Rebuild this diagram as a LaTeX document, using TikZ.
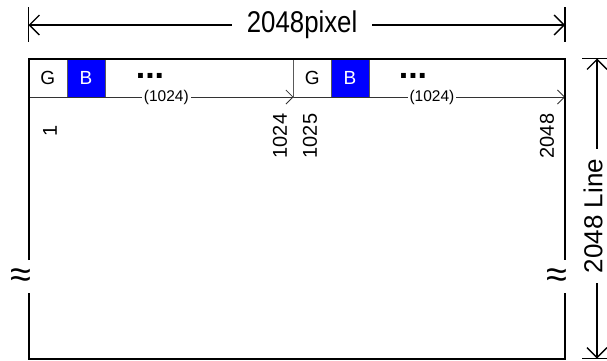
\documentclass[tikz,border=0pt]{standalone}
\usepackage{fontspec}
\setmainfont{Liberation Sans}
\usepackage{tikz}
\usetikzlibrary{arrows.meta}
\usetikzlibrary{positioning}
\definecolor{pixblue}{RGB}{0,0,255}
\newcommand{\narrowtext}[1]{\scalebox{0.86}[1]{#1}}
\tikzset{
    frame/.style={draw=black, line width=2pt},
    cell/.style={draw=black!65, line width=0.8pt, inner sep=0pt,
        minimum width=38.5pt, minimum height=38.5pt, font=\fontsize{19}{19}\selectfont},
    gcell/.style={cell, fill=white},
    bcell/.style={cell, fill=pixblue, text=white},
    divider/.style={draw=black!65, line width=0.8pt},
    count/.style={draw=black!80, line width=0.8pt, -{Straight Barb[length=7pt,width=14pt]}},
    countlabel/.style={fill=white, inner xsep=2pt, inner ysep=0pt, font=\fontsize{15.5}{15.5}\selectfont},
    dots/.style={anchor=base, inner sep=0pt, font=\fontsize{34}{34}\selectfont\bfseries},
    index/.style={rotate=90, inner sep=0pt, font=\fontsize{20}{20}\selectfont},
    wave/.style={inner sep=0pt, font=\fontsize{38}{38}\selectfont},
    dimline/.style={line width=1.3pt,
        {Straight Barb[length=10pt,width=20pt]}-{Straight Barb[length=10pt,width=20pt]}},
    dimtick/.style={line width=1.3pt},
    dimlabel/.style={fill=white, inner ysep=0pt, font=\fontsize{30}{30}\selectfont},
}

\begin{document}
\begin{tikzpicture}[x=1pt, y=-1pt]
\useasboundingbox (0,0) rectangle (607,360);
% corners of the image area
\coordinate (tl) at (28.5,58.5);
\coordinate (tr) at (565,58.5);
\coordinate (bl) at (28.5,358.5);
\coordinate (br) at (565,358.5);
\coordinate (lcut1) at (28.5,260);
\coordinate (lcut2) at (28.5,293);
\coordinate (rcut1) at (565,260);
\coordinate (rcut2) at (565,293);
\coordinate (mid) at (293.5,58.5);
\coordinate (rowl) at (28.5,97);
\coordinate (rowm) at (293.5,97);
\coordinate (rowr) at (565,97);

\node[gcell] (g1) at (47.75,77.75) {G};
\node[bcell, minimum width=38pt] (b1) at (86,77.75) {B};
\node[gcell, minimum width=37.5pt] (g2) at (312.25,77.75) {G};
\node[bcell, minimum width=38pt] (b2) at (350,77.75) {B};
\node[dots] (d1) at (150,78) {...};
\node[dots] (d2) at (413,78) {...};

\draw[divider] (mid) -- (rowm);
\draw[count] (rowl) -- node[countlabel, pos=0.52] (n1) {(1024)} (rowm);
\draw[count] (rowm) -- node[countlabel, pos=0.51] (n2) {(1024)} (rowr);

\draw[frame] (lcut1) -- (tl) -- (tr) -- (rcut1);
\draw[frame] (lcut2) -- (bl) -- (br) -- (rcut2);
\node[wave] (wl) at (21,278) {≈};
\node[wave] (wr) at (557,278) {≈};

\node[index] (i1) at (50,131) {1};
\node[index] (i2) at (280,136) {1024};
\node[index] (i3) at (310,136) {1025};
\node[index] (i4) at (547,136) {2048};

% width
\coordinate (wa1) at (28.5,7);
\coordinate (wa2) at (28.5,42);
\coordinate (wb1) at (565,7);
\coordinate (wb2) at (565,42);
\coordinate (wl1) at (28.5,25);
\coordinate (wl2) at (565,25);
\draw[dimtick] (wa1) -- (wa2);
\draw[dimtick] (wb1) -- (wb2);
\draw[dimline] (wl1) -- node[dimlabel, inner xsep=15pt, pos=0.51] (wtxt) {\narrowtext{2048pixel}} (wl2);

% height
\coordinate (ha1) at (582,58.5);
\coordinate (ha2) at (607,58.5);
\coordinate (hb1) at (582,358.5);
\coordinate (hb2) at (607,358.5);
\coordinate (hl1) at (597,58.5);
\coordinate (hl2) at (597,358.5);
\draw[dimtick] (ha1) -- (ha2);
\draw[dimtick] (hb1) -- (hb2);
\draw[dimline] (hl1) -- (hl2);
\node[dimlabel, rotate=90, inner xsep=10pt, inner ysep=1pt, font=\fontsize{26}{26}\selectfont] (htxt) at (593,216) {2048 Line};
\end{tikzpicture}
\end{document}
